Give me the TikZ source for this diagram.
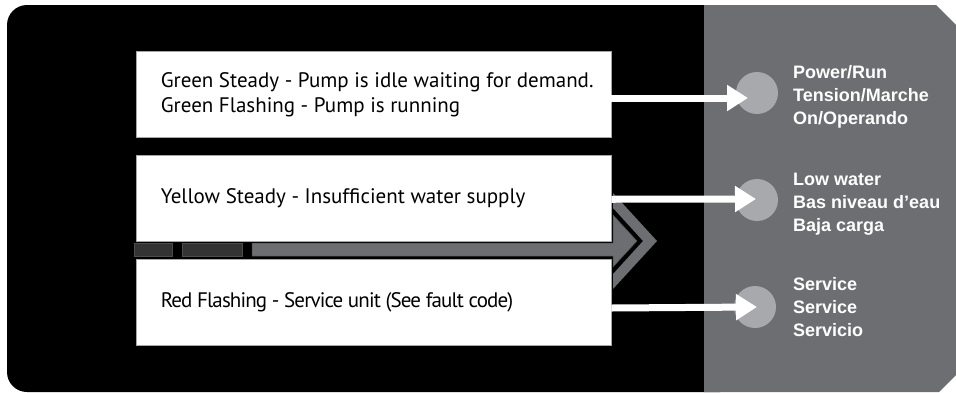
\documentclass[tikz,border=0pt]{standalone}
\usepackage{fontspec}
\setmainfont{PT Sans}
\newfontfamily\lblfont{Liberation Sans}
\usetikzlibrary{positioning,arrows.meta}

\definecolor{panelgray}{HTML}{6D6E71}
\definecolor{ledgray}{HTML}{A7A9AC}
\definecolor{bardark}{HTML}{333333}

\tikzset{
  msgbox/.style={draw=gray!70, line width=0.75pt, fill=white, minimum width=475pt, minimum height=86pt, inner sep=0pt},
  msgtext/.style={align=left, inner sep=0pt, anchor=west, font=\fontsize{21}{25}\selectfont},
  led/.style={circle, fill=ledgray, minimum size=42pt, inner sep=0pt},
  ledlabel/.style={text=white, align=left, inner sep=0pt, anchor=west, font=\lblfont\bfseries\fontsize{18}{23}\selectfont},
  pointer/.style={white, line width=7pt, -{Triangle[length=21pt,width=25pt]}},
  barseg/.style={draw=gray!60!black, line width=0.5pt},
}

\begin{document}
\begin{tikzpicture}[x=1pt,y=-1pt]
    \useasboundingbox (0,0) rectangle (956,392);

    % panels
    \fill[black, rounded corners=20pt] (7,5) rectangle (740,392);
    \fill[panelgray] (704,5) -- (936,5) -- (956,25) -- (956,375) -- (939,392) -- (704,392) -- cycle;

    % bar with chevrons
    \filldraw[barseg, fill=bardark] (134,243) rectangle (172,256);
    \filldraw[barseg, fill=bardark] (182,243) rectangle (242,256);
    \filldraw[barseg, fill=panelgray] (252,243) -- (613,243) -- (613,215) -- (637,241) -- (613,267) -- (613,256) -- (252,256) -- cycle;
    \fill[panelgray] (613,193) -- (657,241) -- (613,289) -- (613,274) -- (643,241) -- (613,208) -- cycle;

    % message boxes
    \node[msgbox] (idle) at (373.5,94.5) {};
    \node[msgbox, below=17pt of idle] (low) {};
    \node[msgbox, below=17pt of low] (fault) {};

    \node[msgtext, right=25pt of idle.west] (idletxt) {Green Steady - Pump is idle waiting for demand.\\Green Flashing - Pump is running};
    \node[msgtext, right=25pt of low.west] (lowtxt) {Yellow Steady - Insufficient water supply};
    \node[msgtext, right=25pt of fault.west] (faulttxt) {\addfontfeature{LetterSpace=-4.2}Red Flashing - Service unit (See fault code)};

    % lights
    \node[led] (run) at (757,93) {};
    \node[led] (water) at (757,200) {};
    \node[led] (service) at (755,307) {};

    \draw[pointer] ([yshift=-3.5pt]idle.east) -- ([xshift=-9pt,yshift=-5pt]run.center);
    \draw[pointer] ([yshift=-1pt]low.east) -- ([xshift=-1pt,yshift=1pt]water.center);
    \draw[pointer] ([yshift=-6pt]fault.east) -- ([xshift=2pt]service.center);

    \node[ledlabel] (runlbl) at (793,96.5) {Power/Run\\Tension/Marche\\On/Operando};
    \node[ledlabel] (waterlbl) at (793,204.7) {Low water\\Bas niveau d’eau\\Baja carga};
    \node[ledlabel] (servicelbl) at (793,306.8) {Service\\Service\\Servicio};
\end{tikzpicture}
\end{document}
